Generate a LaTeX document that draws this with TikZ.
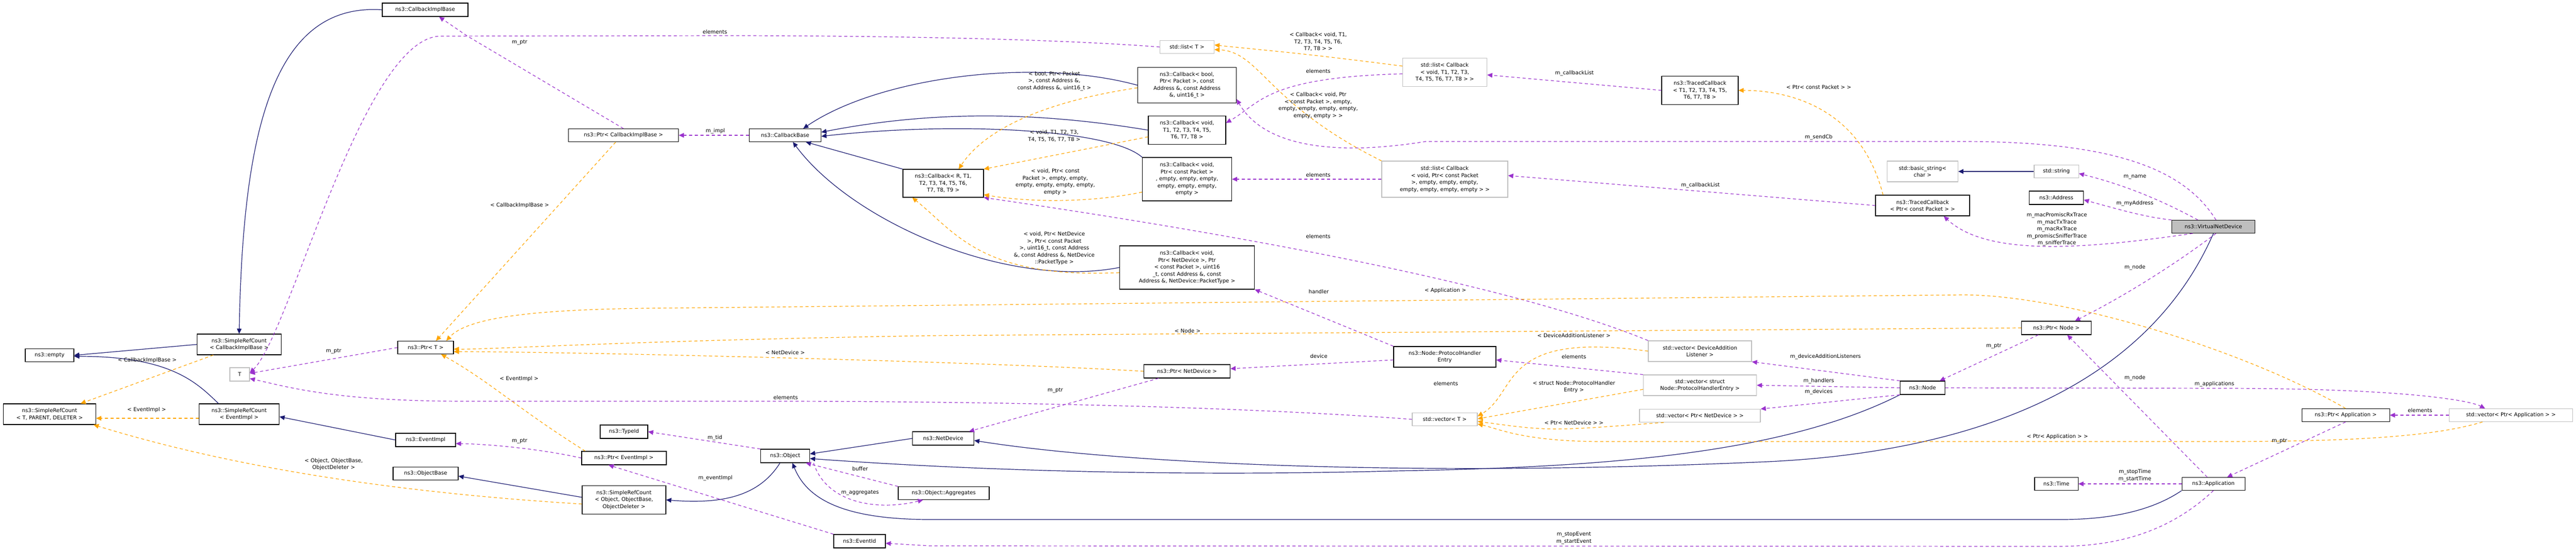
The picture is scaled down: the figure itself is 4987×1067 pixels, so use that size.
\documentclass[tikz,border=0pt]{standalone}
\usepackage{fontspec}
\setmainfont{DejaVu Sans}
\usetikzlibrary{arrows.meta}
\definecolor{inhcol}{HTML}{191970}
\definecolor{usecol}{HTML}{9A32CD}
\definecolor{tplcol}{HTML}{FFA500}
\definecolor{extcol}{HTML}{BFBFBF}
\tikzset{
  cls/.style={draw=black, fill=white, line width=1.1pt, inner sep=1pt, align=center, font=\fontsize{10.2}{13.5}\selectfont},
  ext/.style={cls, draw=extcol},
  cur/.style={cls, fill=extcol},
  lbl/.style={inner sep=0pt, align=center, font=\fontsize{10.2}{13.5}\selectfont},
  inh/.style={draw=inhcol, line width=1.2pt, -{Triangle[length=10pt,width=9pt]}},
  use/.style={draw=usecol, line width=1.2pt, dash pattern=on 6pt off 5pt, -{Triangle[length=10pt,width=9pt]}},
  tpl/.style={draw=tplcol, line width=1.2pt, dash pattern=on 6pt off 5pt, -{Triangle[length=10pt,width=9pt]}}
}
\begin{document}
\begin{tikzpicture}[x=1pt,y=-1pt]
\useasboundingbox (0,0) rectangle (4987,1067);
% classes
\node[cls, minimum width=166, minimum height=26] (cib) at (823,19) {ns3::CallbackImplBase};
\node[cls, minimum width=94, minimum height=25] (empty) at (96,688) {ns3::empty};
\node[cls, minimum width=163, minimum height=40] (srcCib) at (463,667) {ns3::SimpleRefCount\\< CallbackImplBase >};
\node[ext, minimum width=38, minimum height=26] (T) at (464,725) {T};
\node[cls, minimum width=108, minimum height=25] (pT) at (824,673) {ns3::Ptr< T >};
\node[cls, minimum width=179, minimum height=40] (srcTpd) at (96,802) {ns3::SimpleRefCount\\< T, PARENT, DELETER >};
\node[cls, minimum width=155, minimum height=40] (srcEv) at (463,802) {ns3::SimpleRefCount\\< EventImpl >};
\node[cls, minimum width=116, minimum height=26] (evImpl) at (824,852) {ns3::EventImpl};
\node[cls, minimum width=126, minimum height=25] (objBase) at (824,917) {ns3::ObjectBase};
\node[cls, minimum width=213, minimum height=25] (pCib) at (1207,262) {ns3::Ptr< CallbackImplBase >};
\node[cls, minimum width=139, minimum height=25] (cbase) at (1520,262) {ns3::CallbackBase};
\node[cls, minimum width=156, minimum height=54] (cbR) at (1826,355) {ns3::Callback< R, T1,\\T2, T3, T4, T5, T6,\\T7, T8, T9 >};
\node[ext, minimum width=105, minimum height=25] (listT) at (2298,91) {std::list< T >};
\node[cls, minimum width=191, minimum height=69] (cbBool) at (2298,165) {ns3::Callback< bool,\\Ptr< Packet >, const\\Address \&, const Address\\\&, uint16\_t >};
\node[cls, minimum width=150, minimum height=55] (cbT) at (2298,252) {ns3::Callback< void,\\T1, T2, T3, T4, T5,\\T6, T7, T8 >};
\node[cls, minimum width=173, minimum height=84] (cbP) at (2298,347) {ns3::Callback< void,\\Ptr< const Packet >\\, empty, empty, empty,\\empty, empty, empty,\\empty >};
\node[cls, minimum width=261, minimum height=84] (cbNd) at (2298,518) {ns3::Callback< void,\\Ptr< NetDevice >, Ptr\\< const Packet >, uint16\\\_t, const Address \&, const\\Address \&, NetDevice::PacketType >};
\node[ext, minimum width=244, minimum height=70] (listCbP) at (2797,347) {std::list< Callback\\< void, Ptr< const Packet\\>, empty, empty, empty,\\empty, empty, empty, empty > >};
\node[ext, minimum width=163, minimum height=55] (listCbT) at (2797,140) {std::list< Callback\\< void, T1, T2, T3,\\T4, T5, T6, T7, T8 > >};
\node[cls, minimum width=148, minimum height=55] (tcT) at (3291,175) {ns3::TracedCallback\\< T1, T2, T3, T4, T5,\\T6, T7, T8 >};
\node[ext, minimum width=137, minimum height=40] (bstr) at (3722,332) {std::basic\_string<\\char >};
\node[ext, minimum width=86, minimum height=25] (str) at (3981,332) {std::string};
\node[cls, minimum width=105, minimum height=26] (addr) at (3981,383) {ns3::Address};
\node[cls, minimum width=182, minimum height=40] (tcP) at (3722,398) {ns3::TracedCallback\\< Ptr< const Packet > >};
\node[cur, minimum width=161, minimum height=25] (vnd) at (4285,439) {ns3::VirtualNetDevice};
\node[cls, minimum width=135, minimum height=26] (pNode) at (3981,635) {ns3::Ptr< Node >};
\node[cls, minimum width=87, minimum height=26] (node) at (3722,751) {ns3::Node};
\node[cls, minimum width=84, minimum height=25] (time) at (3981,937) {ns3::Time};
\node[cls, minimum width=122, minimum height=25] (app) at (4285,937) {ns3::Application};
\node[cls, minimum width=170, minimum height=25] (pApp) at (4541,804) {ns3::Ptr< Application >};
\node[ext, minimum width=239, minimum height=25] (vecPApp) at (4861,804) {std::vector< Ptr< Application > >};
\node[cls, minimum width=92, minimum height=26] (typeId) at (1208,836) {ns3::TypeId};
\node[cls, minimum width=164, minimum height=26] (pEv) at (1208,887) {ns3::Ptr< EventImpl >};
\node[cls, minimum width=95, minimum height=26] (obj) at (1520,883) {ns3::Object};
\node[cls, minimum width=162, minimum height=55] (srcObj) at (1208,968) {ns3::SimpleRefCount\\< Object, ObjectBase,\\ObjectDeleter >};
\node[cls, minimum width=100, minimum height=26] (evId) at (1664,1048) {ns3::EventId};
\node[cls, minimum width=176, minimum height=25] (agg) at (1827,955) {ns3::Object::Aggregates};
\node[cls, minimum width=119, minimum height=26] (nd) at (1826,849) {ns3::NetDevice};
\node[cls, minimum width=167, minimum height=26] (pNd) at (2298,719) {ns3::Ptr< NetDevice >};
\node[cls, minimum width=198, minimum height=40] (phe) at (2797,691) {ns3::Node::ProtocolHandler\\Entry};
\node[ext, minimum width=200, minimum height=40] (vecDal) at (3291,680) {std::vector< DeviceAddition\\Listener >};
\node[ext, minimum width=219, minimum height=40] (vecPhe) at (3291,746) {std::vector< struct\\Node::ProtocolHandlerEntry >};
\node[ext, minimum width=234, minimum height=25] (vecPnd) at (3291,805) {std::vector< Ptr< NetDevice > >};
\node[ext, minimum width=126, minimum height=25] (vecT) at (2797,812) {std::vector< T >};

% inheritance
\draw[inh] (srcCib.west) -- (empty.east);
\draw[inh] ([xshift=-40pt]srcEv.north) .. controls (380,740) and (330,690) .. ([yshift=-2pt]empty.east);
\draw[inh] (cib.west) .. controls (530,5) and (470,250) .. (srcCib.north);
\draw[inh] (evImpl.west) -- ([yshift=-5pt]srcEv.east);
\draw[inh] ([yshift=5pt]srcObj.west) -- ([yshift=-5pt]objBase.east);
\draw[inh] ([xshift=-10pt]obj.south) .. controls (1470,960) and (1400,977) .. (srcObj.east);
\draw[inh] (nd.west) -- ([yshift=4pt]obj.east);
\draw[inh] (node.south west) .. controls (3450,880) and (3100,905) .. (2700,912) .. controls (2200,925) and (1800,905) .. ([yshift=-5pt]obj.east);
\draw[inh] (vnd.south) .. controls (4150,760) and (3800,880) .. (3400,895) .. controls (2700,925) and (2150,895) .. ([yshift=-4pt]nd.east);
\draw[inh] (app.south west) .. controls (4150,1000) and (4050,1006) .. (3990,1006) -- (1800,1006) .. controls (1620,1006) and (1560,960) .. ([xshift=14pt]obj.south);
\draw[inh] (cbR.north west) -- ([xshift=40pt]cbase.south);
\draw[inh] (cbNd.west) .. controls (1950,560) and (1650,430) .. ([xshift=15pt]cbase.south);
\draw[inh] (cbBool.west) .. controls (2000,110) and (1700,150) .. ([xshift=35pt]cbase.north);
\draw[inh] (cbT.west) .. controls (2000,215) and (1800,215) .. ([yshift=6pt]cbase.east);
\draw[inh] (cbP.north west) .. controls (2150,250) and (1850,235) .. ([yshift=-2pt]cbase.east);
\draw[inh] (str.west) -- (bstr.east);

% usage
\draw[use] (listT.west) .. controls (2000,72) and (1600,69) .. (1400,69) -- (850,70) .. controls (700,80) and (560,650) .. ([yshift=3pt]T.east);
\draw[use] (pCib.north) -- (905,70) -- ([xshift=27pt]cib.south);
\draw[use] (pT.west) -- ([yshift=2pt]T.east);
\draw[use] (vecT.west) .. controls (2300,780) and (1700,777) .. (1500,777) -- (900,777) .. controls (650,777) and (560,750) .. ([yshift=-8pt]T.east);
\draw[use] (vecDal.north west) .. controls (2900,540) and (2300,440) .. (cbR.south east);
\draw[use] (phe.north west) -- (cbNd.south east);
\draw[use] ([yshift=-6pt]phe.west) -- ([yshift=5pt]pNd.east);
\draw[use] (vecPhe.north west) -- ([yshift=-6pt]phe.east);
\draw[use] (node.north west) -- (vecDal.south east);
\draw[use] (node.west) -- (vecPhe.east);
\draw[use] (node.south west) -- (vecPnd.north east);
\draw[use] (node.east) -- (4300,752) .. controls (4650,752) and (4780,775) .. ([xshift=-50pt]vecPApp.north);
\draw[use] ([xshift=-35pt]pNode.south) -- ([xshift=33pt]node.north);
\draw[use] ([xshift=5pt]vnd.south) .. controls (4200,520) and (4100,580) .. ([xshift=36pt]pNode.north);
\draw[use] ([xshift=-12pt]app.north) -- ([xshift=21pt]pNode.south);
\draw[use] (app.west) -- (time.east);
\draw[use] (app.south) .. controls (4200,1030) and (4100,1057) .. (3990,1058) -- (1800,1057) -- ([yshift=-4pt]evId.east);
\draw[use] (pApp.south) -- ([xshift=-35pt]app.north east);
\draw[use] (vecPApp.west) -- (pApp.east);
\draw[use] ([xshift=-30pt]vnd.north) .. controls (4170,380) and (4100,355) .. ([yshift=-4pt]str.east);
\draw[use] (vnd.north west) .. controls (4150,420) and (4100,405) .. ([yshift=-4pt]addr.east);
\draw[use] ([xshift=-40pt]vnd.south) .. controls (4050,480) and (3850,500) .. ([xshift=41pt]tcP.south);
\draw[use] ([xshift=5pt]vnd.north) .. controls (4230,330) and (4100,274) .. (3800,274) -- (2760,274) .. controls (2600,300) and (2450,290) .. ([yshift=8pt]cbBool.south east);
\draw[use] (tcP.west) -- ([yshift=7pt]listCbP.east);
\draw[use] (tcT.west) -- ([yshift=-5pt]listCbT.east);
\draw[use] ([yshift=-3pt]listCbT.west) .. controls (2450,150) and (2440,200) .. ([yshift=14pt]cbT.east);
\draw[use] (listCbP.west) -- (cbP.east);
\draw[use] (cbase.west) -- (pCib.east);
\draw[use] (pEv.west) .. controls (1050,870) and (950,860) .. ([yshift=-7pt]evImpl.east);
\draw[use] (obj.north west) -- (typeId.east);
\draw[use] (agg.north west) -- ([xshift=40pt]obj.south);
\draw[use] ([xshift=55pt]obj.south) .. controls (1600,975) and (1700,990) .. ([xshift=-40pt]agg.south);
\draw[use] (evId.north west) -- ([xshift=-30pt]pEv.south);
\draw[use] ([xshift=-55pt]pNd.south) -- ([xshift=50pt]nd.north);

% templates
\draw[tpl] ([xshift=-50pt]srcCib.south) -- ([xshift=60pt]srcTpd.north);
\draw[tpl] ([yshift=-8pt]srcEv.west) -- ([yshift=-8pt]srcTpd.east);
\draw[tpl] ([yshift=-8pt]srcObj.west) .. controls (700,950) and (400,890) .. ([xshift=-5pt]srcTpd.south east);
\draw[tpl] ([xshift=-15pt]pCib.south) -- ([xshift=20pt]pT.north);
\draw[tpl] (pApp.north) .. controls (4350,680) and (4000,571) .. (3800,571) -- (1250,597) .. controls (1000,600) and (900,620) .. ([xshift=40pt]pT.north);
\draw[tpl] (pNode.west) -- (1800,650) .. controls (1200,660) and (950,677) .. ([yshift=-3pt]pT.east);
\draw[tpl] (pNd.west) .. controls (1900,700) and (1100,681) .. ([yshift=-8pt]pT.east);
\draw[tpl] ([xshift=-75pt]pEv.north) .. controls (1000,790) and (950,740) .. ([xshift=30pt]pT.south);
\draw[tpl] ([yshift=-5pt]cbBool.west) .. controls (2000,200) and (1900,260) .. ([xshift=30pt]cbR.north);
\draw[tpl] ([yshift=-13pt]cbT.west) -- (cbR.north east);
\draw[tpl] ([yshift=-25pt]cbP.west) .. controls (2100,395) and (1980,390) .. ([yshift=-22pt]cbR.east);
\draw[tpl] ([yshift=-10pt]cbNd.west) .. controls (1900,540) and (1850,450) .. ([xshift=-60pt]cbR.south);
\draw[tpl] ([yshift=12pt]listCbT.west) .. controls (2500,100) and (2420,95) .. ([yshift=4pt]listT.east);
\draw[tpl] (listCbP.north west) .. controls (2450,200) and (2440,100) .. ([yshift=-5pt]listT.east);
\draw[tpl] ([xshift=15pt]tcP.north west) .. controls (3600,200) and (3450,175) .. (tcT.east);
\draw[tpl] (vecDal.west) .. controls (2900,640) and (2940,760) .. ([yshift=6pt]vecT.east);
\draw[tpl] ([yshift=-8pt]vecPhe.west) -- ([yshift=1pt]vecT.east);
\draw[tpl] ([xshift=-70pt]vecPnd.south) .. controls (3000,835) .. ([yshift=-4pt]vecT.east);
\draw[tpl] ([xshift=-55pt]vecPApp.south) .. controls (4700,850) and (4500,855) .. (4300,855) -- (3100,855) .. controls (2950,855) and (2900,830) .. ([yshift=-9pt]vecT.east);

% edge labels
\node[lbl] (lA) at (285,698) {< CallbackImplBase >};
\node[lbl] (lB) at (284,794) {< EventImpl >};
\node[lbl] (lC) at (646,899) {< Object, ObjectBase,\\ObjectDeleter >};
\node[lbl] (lD) at (646,680) {m\_ptr};
\node[lbl] (lE) at (1384,62) {elements};
\node[lbl] (lF) at (1006,82) {m\_ptr};
\node[lbl] (lG) at (1385,254) {m\_impl};
\node[lbl] (lH) at (1006,398) {< CallbackImplBase >};
\node[lbl] (lI) at (2552,81) {< Callback< void, T1,\\T2, T3, T4, T5, T6,\\T7, T8 > >};
\node[lbl] (lJ) at (2552,138) {elements};
\node[lbl] (lK) at (2552,204) {< Callback< void, Ptr\\< const Packet >, empty,\\empty, empty, empty, empty,\\empty, empty > >};
\node[lbl] (lL) at (2552,339) {elements};
\node[lbl] (lM) at (2552,458) {elements};
\node[lbl] (lN) at (2041,157) {< bool, Ptr< Packet\\>, const Address \&,\\const Address \&, uint16\_t >};
\node[lbl] (lO) at (2041,263) {< void, T1, T2, T3,\\T4, T5, T6, T7, T8 >};
\node[lbl] (lP) at (2043,352) {< void, Ptr< const\\Packet >, empty, empty,\\empty, empty, empty, empty,\\empty >};
\node[lbl] (lQ) at (2041,481) {< void, Ptr< NetDevice\\>, Ptr< const Packet\\>, uint16\_t, const Address\\\&, const Address \&, NetDevice\\::PacketType >};
\node[lbl] (lR) at (3048,142) {m\_callbackList};
\node[lbl] (lS) at (3521,169) {< Ptr< const Packet > >};
\node[lbl] (lT) at (3521,266) {m\_sendCb};
\node[lbl] (lU) at (3292,359) {m\_callbackList};
\node[lbl] (lV) at (4133,343) {m\_name};
\node[lbl] (lW) at (4133,394) {m\_myAddress};
\node[lbl] (lX) at (3982,444) {m\_macPromiscRxTrace\\m\_macTxTrace\\m\_macRxTrace\\m\_promiscSnifferTrace\\m\_snifferTrace};
\node[lbl] (lY) at (4133,518) {m\_node};
\node[lbl] (lZ) at (3860,670) {m\_ptr};
\node[lbl] (lAa) at (4133,732) {m\_node};
\node[lbl] (lAb) at (4287,744) {m\_applications};
\node[lbl] (lAc) at (3983,846) {< Ptr< Application > >};
\node[lbl] (lAd) at (4133,921) {m\_stopTime\\m\_startTime};
\node[lbl] (lAe) at (4685,795) {elements};
\node[lbl] (lAf) at (4413,854) {m\_ptr};
\node[lbl] (lAg) at (1520,683) {< NetDevice >};
\node[lbl] (lAh) at (1005,734) {< EventImpl >};
\node[lbl] (lAi) at (1521,770) {elements};
\node[lbl] (lAj) at (1384,848) {m\_tid};
\node[lbl] (lAk) at (1665,908) {buffer};
\node[lbl] (lAl) at (1385,926) {m\_eventImpl};
\node[lbl] (lAm) at (1665,954) {m\_aggregates};
\node[lbl] (lAn) at (1006,854) {m\_ptr};
\node[lbl] (lAo) at (2553,565) {handler};
\node[lbl] (lAp) at (2299,641) {< Node >};
\node[lbl] (lAq) at (2553,690) {device};
\node[lbl] (lAr) at (2043,756) {m\_ptr};
\node[lbl] (lAs) at (2798,563) {< Application >};
\node[lbl] (lAt) at (3047,650) {< DeviceAdditionListener >};
\node[lbl] (lAu) at (3047,691) {elements};
\node[lbl] (lAv) at (2799,743) {elements};
\node[lbl] (lAw) at (3047,749) {< struct Node::ProtocolHandler\\Entry >};
\node[lbl] (lAx) at (3047,819) {< Ptr< NetDevice > >};
\node[lbl] (lAy) at (3534,691) {m\_deviceAdditionListeners};
\node[lbl] (lAz) at (3521,738) {m\_handlers};
\node[lbl] (lBa) at (3521,759) {m\_devices};
\node[lbl] (lBb) at (3047,1042) {m\_stopEvent\\m\_startEvent};
\end{tikzpicture}
\end{document}
